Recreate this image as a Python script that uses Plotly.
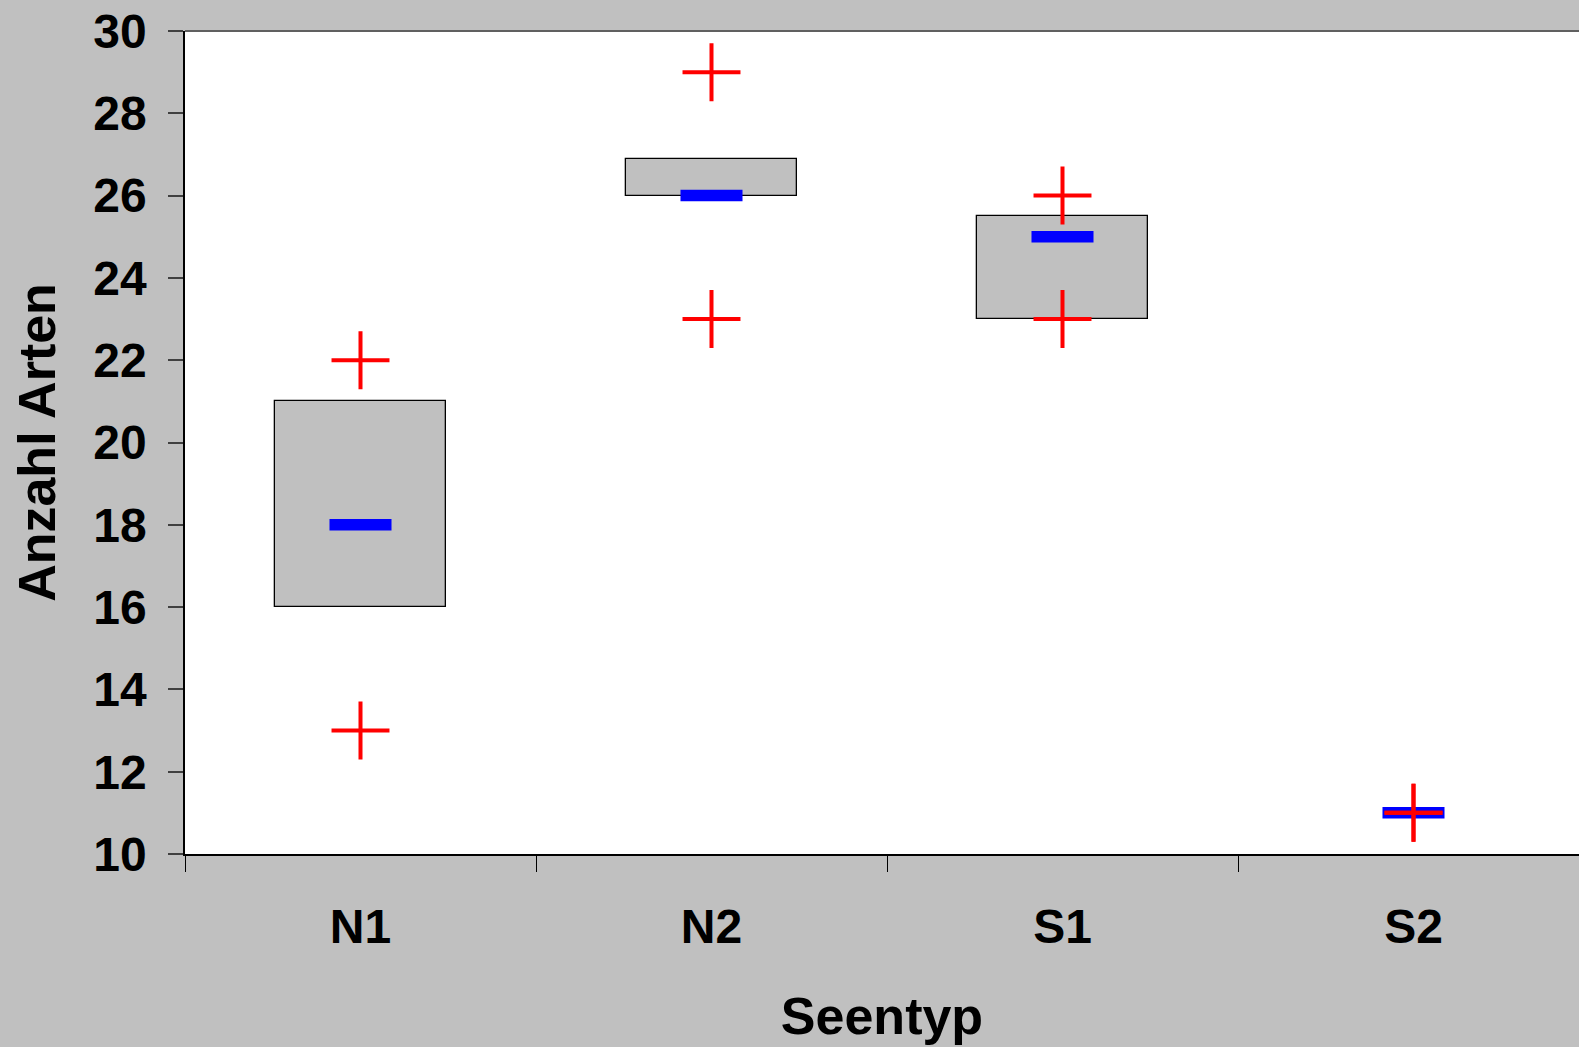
import plotly.graph_objects as go

categories = ["N1", "N2", "S1", "S2"]
q1_vals = [16, 26, 23, 11]
q3_vals = [21, 26.9, 25.5, 11]
median_vals = [18, 26, 25, 11]
max_vals = [22, 29, 26, 11]
min_vals = [13, 23, 23, 11]

FONT = "Liberation Sans, Arial, sans-serif"

box_heights = [(h - l) if h > l else None for l, h in zip(q1_vals, q3_vals)]

fig = go.Figure()
fig.add_trace(go.Bar(
    x=categories, y=box_heights, base=q1_vals, width=0.487,
    marker=dict(color="#C0C0C0", line=dict(color="black", width=1.3)),
    showlegend=False, hoverinfo="skip",
))
fig.add_trace(go.Scatter(
    x=categories, y=median_vals, mode="markers",
    marker=dict(symbol="line-ew", size=44.3, line=dict(color="#0000FF", width=11.5)),
    showlegend=False,
))
fig.add_trace(go.Scatter(
    x=categories + categories, y=max_vals + min_vals, mode="markers",
    marker=dict(symbol="cross-thin", size=41.4, line=dict(color="#FF0000", width=4)),
    showlegend=False,
))

fig.update_layout(
    width=1579, height=1047,
    margin=dict(l=185, r=0, t=31, b=193),
    paper_bgcolor="#C0C0C0", plot_bgcolor="white",
    font=dict(family=FONT, color="black"),
    bargap=0,
    shapes=[dict(type="line", xref="paper", yref="paper", x0=0, x1=1, y0=1, y1=1,
                 line=dict(color="#606060", width=2))],
)
fig.update_xaxes(
    type="category", range=[-0.5, 3.4715],
    tickson="boundaries", ticks="outside", ticklen=16, tickcolor="black", tickwidth=1,
    showline=True, linecolor="black", linewidth=1.5, showgrid=False,
    tickfont=dict(family=FONT, size=48, weight="bold"),
    ticklabelstandoff=30,
    title=dict(text="Seentyp", font=dict(family=FONT, size=52, weight="bold"), standoff=45),
)
fig.update_yaxes(
    range=[10, 30], dtick=2, tick0=10,
    ticks="outside", ticklen=15, tickcolor="#404040", tickwidth=1.5,
    showline=True, linecolor="black", linewidth=1.5, showgrid=False, zeroline=False,
    tickfont=dict(family=FONT, size=48, weight="bold"),
    ticklabelstandoff=12,
    title=dict(text="Anzahl Arten", font=dict(family=FONT, size=52, weight="bold"), standoff=21),
)

fig.write_html(
    "out.html",
    config={"displayModeBar": False},
    post_script="document.body.style.margin='0';document.body.style.padding='0';",
)
